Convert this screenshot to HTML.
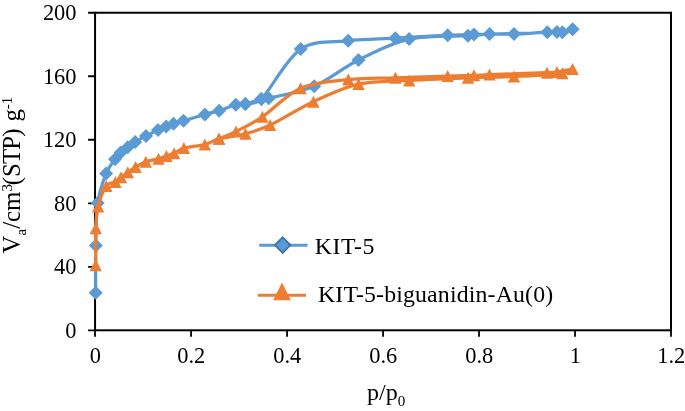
<!DOCTYPE html>
<html><head><meta charset="utf-8"><title>Isotherm</title><style>html,body{margin:0;padding:0;background:#fff}svg{display:block}</style></head><body>
<svg width="685" height="411" viewBox="0 0 685 411">
<rect width="685" height="411" fill="#fff"/>
<rect x="95.05" y="12.75" width="575.95" height="317.55" fill="none" stroke="#000" stroke-width="2"/>
<path d="M88.10 330.30H95.05M88.10 266.79H95.05M88.10 203.28H95.05M88.10 139.77H95.05M88.10 76.26H95.05M88.10 12.75H95.05M95.05 330.30V336.75M191.04 330.30V336.75M287.03 330.30V336.75M383.03 330.30V336.75M479.02 330.30V336.75M575.01 330.30V336.75M671.00 330.30V336.75" stroke="#000" stroke-width="1.8" fill="none"/>
<g fill="none" stroke="#5b9bd5" stroke-width="3.2" stroke-linejoin="round" stroke-linecap="round"><path d="M95.7 292.8 C95.7 277.1 95.5 260.6 95.8 245.6 C96.1 230.6 96.0 215.1 97.7 203.1 C99.4 191.1 103.2 180.9 106.1 173.6 C109.0 166.3 112.6 162.8 115.0 159.3 C117.4 155.8 118.6 154.6 120.7 152.6 C122.8 150.6 125.3 149.1 127.7 147.3 C130.1 145.5 132.1 143.9 135.2 142.0 C138.2 140.1 142.2 137.9 146.0 135.9 C149.8 133.9 154.6 131.7 158.0 130.1 C161.4 128.5 163.6 127.5 166.2 126.5 C168.8 125.5 170.6 124.8 173.5 123.8 C176.3 122.9 178.5 122.2 183.5 120.7 C188.7 119.2 199.0 116.2 204.9 114.5 C210.8 112.8 213.9 112.3 219.1 110.7 C224.2 109.1 231.4 105.9 235.8 104.8 C240.2 103.7 241.0 105.1 245.3 104.1 C249.6 103.1 257.5 100.0 261.4 99.0 C265.0 98.1 265.1 99.1 268.7 98.2 C277.5 96.1 299.2 92.6 314.2 86.2 C329.2 79.8 342.7 67.8 358.5 60.0 C374.3 52.1 390.9 43.1 409.1 39.1 C427.3 35.1 454.5 36.5 467.9 35.7 C478.7 35.0 483.3 34.3 489.5 34.1 C497.2 33.8 504.4 34.4 514.0 34.1 C523.6 33.8 539.2 32.5 547.3 32.2 C554.8 31.9 558.5 32.8 562.4 32.3 C566.6 31.8 573.5 29.2 572.6 29.2 C572.2 29.2 564.9 31.6 557.0 32.0 C540.6 32.9 492.2 34.0 474.0 34.5 C460.9 34.9 457.2 34.8 447.7 35.2 C434.6 35.8 411.9 37.3 395.3 38.2 C378.7 39.1 364.0 39.0 348.2 40.8 C332.4 42.6 315.2 39.4 300.7 49.1 C286.2 58.8 270.6 89.8 261.4 99.0 C255.4 104.9 247.0 103.5 245.3 104.1"/></g>
<g fill="#5b9bd5"><path d="M95.7 285.8l7.0 7.0l-7.0 7.0l-7.0 -7.0z"/><path d="M95.8 238.6l7.0 7.0l-7.0 7.0l-7.0 -7.0z"/><path d="M97.7 196.1l7.0 7.0l-7.0 7.0l-7.0 -7.0z"/><path d="M106.1 166.6l7.0 7.0l-7.0 7.0l-7.0 -7.0z"/><path d="M115.0 152.3l7.0 7.0l-7.0 7.0l-7.0 -7.0z"/><path d="M120.7 145.6l7.0 7.0l-7.0 7.0l-7.0 -7.0z"/><path d="M127.7 140.3l7.0 7.0l-7.0 7.0l-7.0 -7.0z"/><path d="M135.2 135.0l7.0 7.0l-7.0 7.0l-7.0 -7.0z"/><path d="M146.0 128.9l7.0 7.0l-7.0 7.0l-7.0 -7.0z"/><path d="M158.0 123.1l7.0 7.0l-7.0 7.0l-7.0 -7.0z"/><path d="M166.2 119.5l7.0 7.0l-7.0 7.0l-7.0 -7.0z"/><path d="M173.5 116.8l7.0 7.0l-7.0 7.0l-7.0 -7.0z"/><path d="M183.5 113.7l7.0 7.0l-7.0 7.0l-7.0 -7.0z"/><path d="M204.9 107.5l7.0 7.0l-7.0 7.0l-7.0 -7.0z"/><path d="M219.1 103.7l7.0 7.0l-7.0 7.0l-7.0 -7.0z"/><path d="M235.8 97.8l7.0 7.0l-7.0 7.0l-7.0 -7.0z"/><path d="M245.3 97.1l7.0 7.0l-7.0 7.0l-7.0 -7.0z"/><path d="M261.4 92.0l7.0 7.0l-7.0 7.0l-7.0 -7.0z"/><path d="M268.7 91.2l7.0 7.0l-7.0 7.0l-7.0 -7.0z"/><path d="M314.2 79.2l7.0 7.0l-7.0 7.0l-7.0 -7.0z"/><path d="M358.5 53.0l7.0 7.0l-7.0 7.0l-7.0 -7.0z"/><path d="M409.1 32.1l7.0 7.0l-7.0 7.0l-7.0 -7.0z"/><path d="M467.9 28.7l7.0 7.0l-7.0 7.0l-7.0 -7.0z"/><path d="M489.5 27.1l7.0 7.0l-7.0 7.0l-7.0 -7.0z"/><path d="M514.0 27.1l7.0 7.0l-7.0 7.0l-7.0 -7.0z"/><path d="M547.3 25.2l7.0 7.0l-7.0 7.0l-7.0 -7.0z"/><path d="M562.4 25.3l7.0 7.0l-7.0 7.0l-7.0 -7.0z"/><path d="M572.6 22.2l7.0 7.0l-7.0 7.0l-7.0 -7.0z"/><path d="M557.0 25.0l7.0 7.0l-7.0 7.0l-7.0 -7.0z"/><path d="M474.0 27.5l7.0 7.0l-7.0 7.0l-7.0 -7.0z"/><path d="M447.7 28.2l7.0 7.0l-7.0 7.0l-7.0 -7.0z"/><path d="M395.3 31.2l7.0 7.0l-7.0 7.0l-7.0 -7.0z"/><path d="M348.2 33.8l7.0 7.0l-7.0 7.0l-7.0 -7.0z"/><path d="M300.7 42.1l7.0 7.0l-7.0 7.0l-7.0 -7.0z"/><path d="M261.4 92.0l7.0 7.0l-7.0 7.0l-7.0 -7.0z"/><path d="M245.3 97.1l7.0 7.0l-7.0 7.0l-7.0 -7.0z"/></g>
<g fill="none" stroke="#ed7d31" stroke-width="3.2" stroke-linejoin="round" stroke-linecap="round"><path d="M95.7 265.3 C95.7 253.0 95.4 238.1 95.8 228.3 C96.2 218.5 96.3 213.6 98.1 206.5 C99.8 199.4 103.4 190.1 106.3 186.0 C109.2 181.9 113.0 183.4 115.4 182.0 C117.9 180.6 118.9 178.9 121.0 177.3 C123.1 175.7 125.4 174.0 127.8 172.3 C130.2 170.6 132.6 168.8 135.6 167.0 C138.6 165.2 142.0 163.2 145.8 161.8 C149.6 160.4 155.1 159.7 158.5 158.7 C161.9 157.7 163.8 156.8 166.4 155.9 C169.0 155.0 171.2 154.6 174.1 153.3 C177.0 152.0 178.8 149.4 183.9 148.0 C189.0 146.6 199.0 146.1 204.8 144.6 C210.7 143.1 212.2 140.6 219.0 138.8 C225.8 137.0 237.0 136.0 245.5 133.7 C254.0 131.4 258.8 130.3 270.1 125.0 C281.4 119.7 298.6 108.5 313.4 101.7 C328.1 94.9 342.6 87.6 358.6 84.1 C374.6 80.6 391.0 81.5 409.2 80.5 C427.4 79.5 450.5 78.5 468.0 77.8 C485.5 77.1 498.3 77.2 514.0 76.5 C529.7 75.8 552.6 74.5 562.4 73.3 C567.9 72.6 573.1 69.2 572.6 69.1 C571.7 68.9 561.3 71.4 557.0 72.0 C555.1 72.3 552.0 72.5 547.0 72.7 C535.8 73.1 501.7 74.2 489.5 74.6 C481.7 74.9 478.4 75.2 474.0 75.3 C467.0 75.5 460.8 75.6 447.7 76.0 C434.6 76.4 412.1 77.2 395.5 77.8 C378.9 78.4 364.1 77.9 348.3 79.6 C332.5 81.3 314.9 82.0 300.6 88.2 C286.3 94.4 273.2 109.6 262.4 116.8 C251.6 124.0 243.2 127.8 236.0 131.5 C228.8 135.2 224.7 136.4 219.0 138.8"/></g>
<g fill="#ed7d31"><path d="M95.7 259.3L101.9 271.3L89.5 271.3z"/><path d="M95.8 222.3L102.0 234.3L89.6 234.3z"/><path d="M98.1 200.5L104.3 212.5L91.9 212.5z"/><path d="M106.3 180.0L112.5 192.0L100.1 192.0z"/><path d="M115.4 176.0L121.6 188.0L109.2 188.0z"/><path d="M121.0 171.3L127.2 183.3L114.8 183.3z"/><path d="M127.8 166.3L134.0 178.3L121.6 178.3z"/><path d="M135.6 161.0L141.8 173.0L129.4 173.0z"/><path d="M145.8 155.8L152.0 167.8L139.6 167.8z"/><path d="M158.5 152.7L164.7 164.7L152.3 164.7z"/><path d="M166.4 149.9L172.6 161.9L160.2 161.9z"/><path d="M174.1 147.3L180.3 159.3L167.9 159.3z"/><path d="M183.9 142.0L190.1 154.0L177.7 154.0z"/><path d="M204.8 138.6L211.0 150.6L198.6 150.6z"/><path d="M219.0 132.8L225.2 144.8L212.8 144.8z"/><path d="M245.5 127.7L251.7 139.7L239.3 139.7z"/><path d="M270.1 119.0L276.3 131.0L263.9 131.0z"/><path d="M313.4 95.7L319.6 107.7L307.2 107.7z"/><path d="M358.6 78.1L364.8 90.1L352.4 90.1z"/><path d="M409.2 74.5L415.4 86.5L403.0 86.5z"/><path d="M468.0 71.8L474.2 83.8L461.8 83.8z"/><path d="M514.0 70.5L520.2 82.5L507.8 82.5z"/><path d="M562.4 67.3L568.6 79.3L556.2 79.3z"/><path d="M572.6 63.1L578.8 75.1L566.4 75.1z"/><path d="M557.0 66.0L563.2 78.0L550.8 78.0z"/><path d="M547.0 66.7L553.2 78.7L540.8 78.7z"/><path d="M489.5 68.6L495.7 80.6L483.3 80.6z"/><path d="M474.0 69.3L480.2 81.3L467.8 81.3z"/><path d="M447.7 70.0L453.9 82.0L441.5 82.0z"/><path d="M395.5 71.8L401.7 83.8L389.3 83.8z"/><path d="M348.3 73.6L354.5 85.6L342.1 85.6z"/><path d="M300.6 82.2L306.8 94.2L294.4 94.2z"/><path d="M262.4 110.8L268.6 122.8L256.2 122.8z"/><path d="M236.0 125.5L242.2 137.5L229.8 137.5z"/><path d="M219.0 132.8L225.2 144.8L212.8 144.8z"/></g>
<g font-family="'Liberation Serif', 'Times New Roman', serif" fill="#000">
<g font-size="22.4" text-anchor="end">
<text x="76.5" y="337.7">0</text>
<text x="76.5" y="274.2">40</text>
<text x="76.5" y="210.7">80</text>
<text x="76.5" y="147.2">120</text>
<text x="76.5" y="83.7">160</text>
<text x="76.5" y="20.1">200</text>
</g><g font-size="22.4" text-anchor="middle">
<text x="95.3" y="362.9">0</text>
<text x="191.3" y="362.9">0.2</text>
<text x="287.3" y="362.9">0.4</text>
<text x="383.3" y="362.9">0.6</text>
<text x="479.3" y="362.9">0.8</text>
<text x="575.3" y="362.9">1</text>
<text x="671.3" y="362.9">1.2</text>
</g>
<text font-size="24" x="367" y="400.2">p/p<tspan font-size="15" dy="5.5">0</tspan></text>
<text font-size="24.8" transform="translate(20.2 253.4) rotate(-90)">V<tspan font-size="15" dy="5.5">a</tspan><tspan dy="-5.5">/cm</tspan><tspan font-size="15" dy="-8">3</tspan><tspan dy="8" dx="-1.1">(</tspan><tspan letter-spacing="-0.85">STP</tspan><tspan word-spacing="0.7">) g</tspan><tspan font-size="15" dy="-8">-1</tspan></text>
<text font-size="23.8" letter-spacing="0.55" x="314.8" y="254">KIT-5</text>
<text font-size="23.8" letter-spacing="0.16" x="318" y="302">KIT-5-biguanidin-Au(0)</text>
</g>
<path d="M259.2 245.15H307.5" stroke="#5b9bd5" stroke-width="3"/>
<path d="M282.7 237.4l7.7 7.7l-7.7 7.7l-7.7-7.7z" fill="#5b9bd5" stroke="#3f74a8" stroke-width="1.9"/>
<path d="M257.9 295.2H306" stroke="#ed7d31" stroke-width="3"/>
<path d="M282 282.6L290.9 300.2H273.1z" fill="#ed7d31"/>
</svg>
</body></html>
